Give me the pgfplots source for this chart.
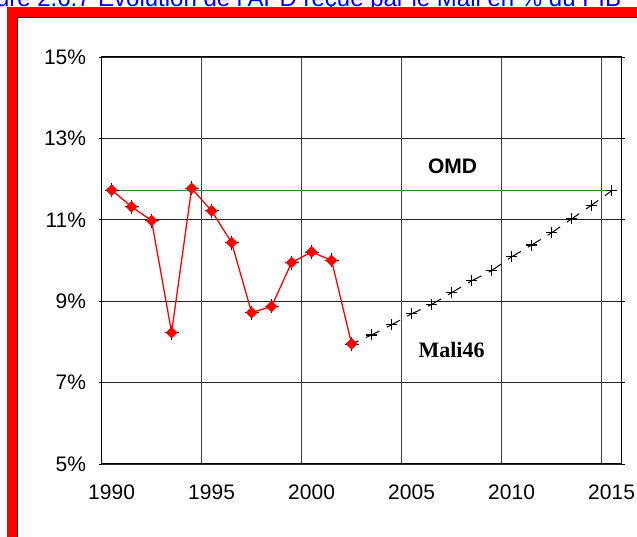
\documentclass[border=0pt]{standalone}
\usepackage{pgfplots}
\pgfplotsset{compat=1.18}
\usepackage{fontspec}
\setmainfont{Liberation Sans}
\newfontfamily\timesfont{Liberation Serif}
\begin{document}
\begin{tikzpicture}
\useasboundingbox (0pt,0pt) rectangle (637pt,537pt);
\clip (0pt,0pt) rectangle (637pt,537pt);
% title (cut off at the top edge, as in the reference)
\node[anchor=base west, text=blue, inner sep=0pt, font=\fontsize{24}{28}\selectfont] at (98pt,530.5pt) {Evolution de l'APD reçue par le Mali en \% du PIB};
\node[anchor=base east, text=blue, inner sep=0pt, font=\fontsize{24}{28}\selectfont] at (91pt,530.5pt) {Figure 2.6.7};
% frame
\fill[red] (7pt,-20pt) rectangle (17pt,530pt);
\fill[red] (7pt,520pt) rectangle (660pt,530pt);
\draw[black!85, line width=1.3pt] (17.6pt,-20pt) -- (17.6pt,519.4pt) -- (660pt,519.4pt);
\begin{axis}[
  at={(101.6pt,73pt)}, anchor=south west,
  scale only axis, width=520pt, height=407pt,
  xmin=1989.5, xmax=2015.5, ymin=5, ymax=15,
  xtick={1990,1995,2000,2005,2010,2015},
  xticklabels={1990,1995,2000,2005,2010,2015},
  minor xtick={1994.5,1999.5,2004.5,2009.5,2014.5},
  xminorgrids=true,
  ytick={5,7,9,11,13,15},
  yticklabel={\pgfmathprintnumber{\tick}\%},
  ymajorgrids=true,
  grid style={black!85, line width=0.9pt},
  minor grid style={black!75, line width=0.9pt},
  axis line style={black, line width=1pt},
  tick style={black, line width=0.9pt},
  xtick style={draw=none},
  minor tick length=0pt,
  ytick align=outside, major tick length=3pt,
  ticklabel style={font=\fontsize{21}{25}\selectfont},
  xticklabel style={yshift=-17pt},
  yticklabel style={xshift=-9pt},
  /pgf/number format/assume math mode=true,
  clip=false,
]
% OMD line
\addplot[color={rgb,255:red,40;green,140;blue,30}, line width=1pt, mark=none] coordinates {(1990,11.72) (2015,11.72)};
% Mali46 projection
\addplot[black, line width=1pt, dash pattern=on 15pt off 8.2pt, dash phase=7.5pt,
  mark=+, mark size=5.5pt, mark options={solid, line width=1.1pt}] coordinates {
(2002,7.95) (2003,8.17) (2004,8.42) (2005,8.69) (2006,8.92) (2007,9.21) (2008,9.50)
(2009,9.75) (2010,10.09) (2011,10.38) (2012,10.68) (2013,11.02) (2014,11.36) (2015,11.71)};
% black spikes under red diamonds
\addplot[only marks, black, mark=+, mark size=7pt, mark options={line width=0.8pt}] coordinates {
(1990,11.73) (1991,11.32) (1992,10.98) (1993,8.23) (1994,11.77) (1995,11.22) (1996,10.44)
(1997,8.72) (1998,8.87) (1999,9.95) (2000,10.21) (2001,10.00) (2002,7.95)};
% observed
\addplot[red, line width=1.3pt, mark=square*, mark size=3.5pt, mark options={rotate=45, fill=red, draw=red}] coordinates {
(1990,11.73) (1991,11.32) (1992,10.98) (1993,8.23) (1994,11.77) (1995,11.22) (1996,10.44)
(1997,8.72) (1998,8.87) (1999,9.95) (2000,10.21) (2001,10.00) (2002,7.95)};
\node[font=\bfseries\fontsize{21}{25}\selectfont] at (axis cs:2007.05,12.32) {OMD};
\node[font=\timesfont\bfseries\fontsize{22}{26}\selectfont] at (axis cs:2007.0,7.80) {Mali46};
\end{axis}
\end{tikzpicture}
\end{document}
